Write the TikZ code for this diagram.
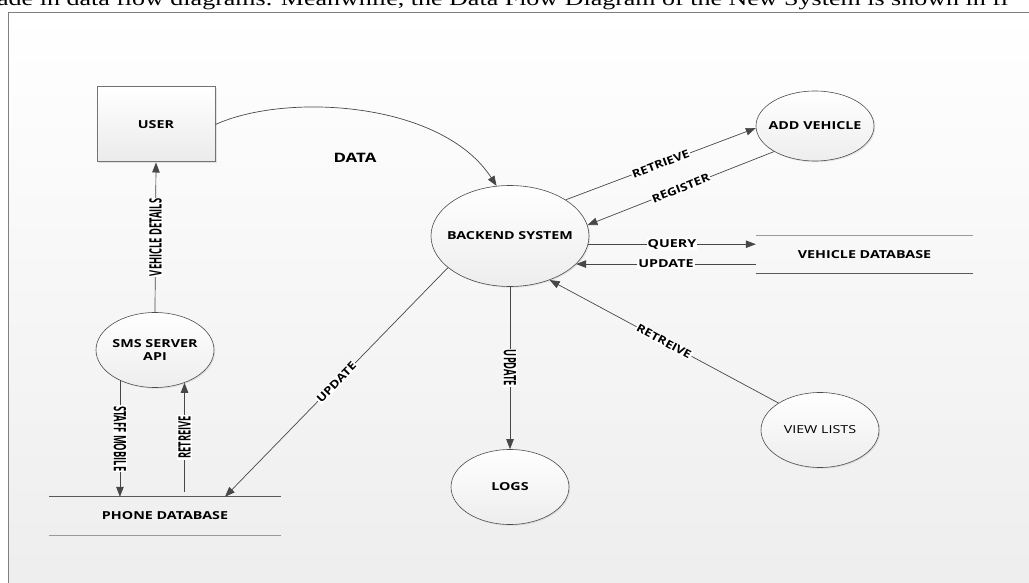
\documentclass[tikz,border=0pt]{standalone}
\usepackage{fontspec}
\setmainfont{Open Sans}
\newfontfamily\pageserif{Liberation Serif}
\usetikzlibrary{arrows.meta,shapes.geometric,shadows,positioning}

\newcommand{\wide}[1]{\scalebox{1.3}[1]{#1}}
\newcommand{\pname}[1]{\makebox[0pt]{\scalebox{1.3}[1]{#1}}}
\newcommand{\tall}[1]{\scalebox{0.85}[1.55]{#1}}
\newcommand{\slant}[1]{\scalebox{1.2}[1]{#1}}

\begin{document}
\begin{tikzpicture}[x=1pt, y=-1pt,
  proc/.style={ellipse, draw=black!70, line width=0.6pt, top color=white, bottom color=black!7,
    minimum width=118pt, minimum height=74pt, inner sep=0pt, align=center,
    font=\bfseries\fontsize{11}{13}\selectfont,
    drop shadow={opacity=0.18, shadow xshift=1.2pt, shadow yshift=-1.2pt}},
  entity/.style={rectangle, draw=black!55, line width=1pt, top color=white, bottom color=black!8,
    minimum width=118pt, minimum height=75pt, font=\bfseries\fontsize{11}{13}\selectfont,
    drop shadow={opacity=0.2, shadow xshift=1.5pt, shadow yshift=-1.5pt}},
  store/.style={inner sep=0pt, font=\bfseries\fontsize{11}{13}\selectfont},
  flow/.style={draw=black!72, line width=0.7pt, -{Triangle[length=10pt,width=7.5pt]}},
  lab/.style={fill=white, inner sep=1pt, font=\bfseries\fontsize{11}{12}\selectfont}]
\clip (0,0) rectangle (1029,583);
\shade[top color=white, bottom color=black!7] (8,12) rectangle (1040,600);
\path[draw=black!50, line width=0.8pt] (1040,12) -- (8,12) -- (8,600);
\node[anchor=base west, inner sep=0pt, font=\pageserif\fontsize{20}{24}\selectfont] (intro) at (-3,6)
  {\wide{ade in data flow diagrams. Meanwhile, the Data Flow Diagram of the New System is shown in fi}};

% processes and stores
\node[entity] (user) at (156,124.5) {\wide{USER}};
\node[proc, minimum width=158pt, minimum height=101pt] (back) at (510,236) {\pname{BACKEND SYSTEM}};
\node[proc, minimum height=70pt] (add) at (815,126) {\pname{ADD VEHICLE}};
\node[proc, minimum height=75pt] (sms) at (155,350) {\pname{SMS SERVER}\\\pname{API}};
\node[proc, minimum height=75pt] (logs) at (510,487) {\pname{LOGS}};
\node[proc, minimum height=75pt, font=\fontsize{11}{13}\selectfont] (view) at (820,430) {\pname{VIEW LISTS}};
\node[store, minimum width=217pt, minimum height=37pt] (vdb) at (864.5,254.5) {\wide{VEHICLE DATABASE}};
\node[store, minimum width=232pt, minimum height=38pt] (pdb) at (165,516) {\wide{PHONE DATABASE}};
\node[font=\bfseries\fontsize{13}{15}\selectfont] (data) at (355,158) {\wide{DATA}};

\path[draw=black!40, line width=1.2pt] (vdb.north west) -- (vdb.north east);
\path[draw=black!65, line width=0.7pt] (vdb.south west) -- (vdb.south east);
\path[draw=black!65, line width=0.7pt] (pdb.north west) -- (pdb.north east);
\path[draw=black!40, line width=1.2pt] (pdb.south west) -- (pdb.south east);

% flows
\path[flow] (user.east) .. controls +(70,-32) and +(-55,-85) .. (back.105);
\path[flow] (back.33) -- node[lab, sloped] {\slant{RETRIEVE}} (add.182);
\path[flow] (add.212) -- node[lab, sloped] {\slant{REGISTER}} (back.8);
\path[flow] (back.-6) -- node[lab] {\wide{QUERY}} (back.-6 -| vdb.west);
\path[flow] (back.-23 -| vdb.west) -- node[lab] {\wide{UPDATE}} (back.-23);
\path[flow] (view.147) -- node[lab, sloped] {\slant{RETREIVE}} (back.-48);
\path[flow] (back.south) -- node[lab, rotate=-90] {\tall{UPDATE}} (logs.north);
\path[flow] (back.207) -- node[lab, sloped] {\slant{UPDATE}} ([xshift=60pt]pdb.north);
\path[flow] (sms.north) -- node[lab, rotate=90] {\tall{VEHICLE DETAILS}} (user.south);
\path[flow] (sms.221) -- node[lab, rotate=-90] {\tall{STAFF MOBILE}} (sms.221 |- pdb.north);
\coordinate (rbase) at (sms.-48 |- pdb.north);
\path[flow] ([yshift=5pt]rbase) -- node[lab, rotate=90] {\tall{RETREIVE}} (sms.-48);
\end{tikzpicture}
\end{document}
